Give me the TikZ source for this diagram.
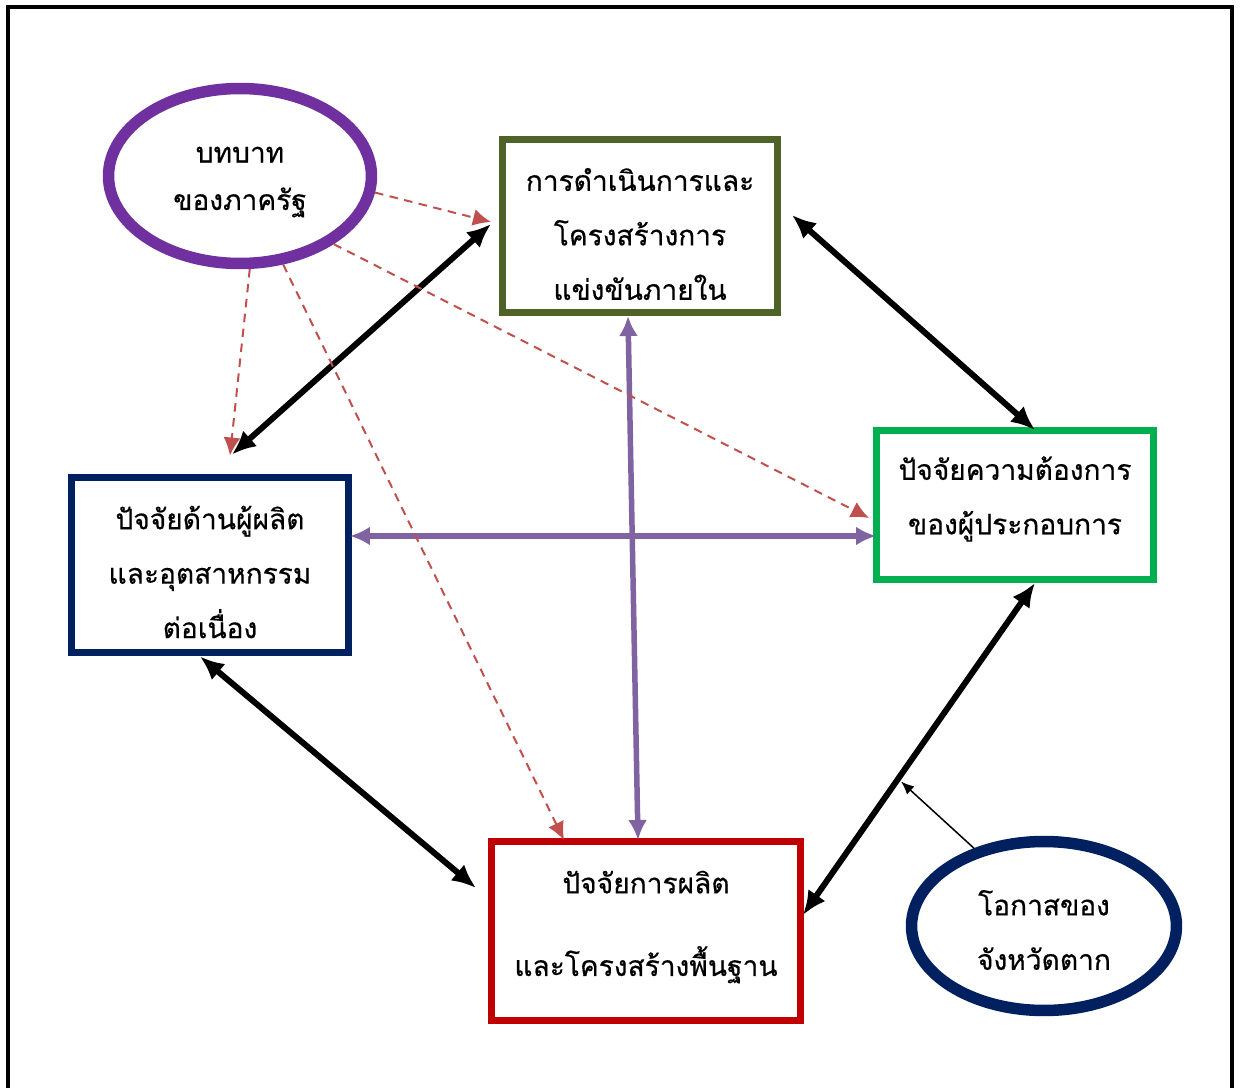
\documentclass[tikz,border=0pt]{standalone}
\usepackage{fontspec}
\setmainfont[Script=Thai,FakeBold=0.5]{Loma}
\usepackage{tikz}
\usetikzlibrary{arrows.meta,shapes.geometric,positioning}
\definecolor{govpurple}{RGB}{112, 48, 160}
\definecolor{darkolive}{RGB}{79, 98, 40}
\definecolor{brightgreen}{RGB}{0, 176, 80}
\definecolor{navyblue}{RGB}{0, 32, 96}
\definecolor{deepred}{RGB}{192, 0, 0}
\definecolor{linkpurple}{RGB}{128, 100, 162}
\definecolor{dashred}{RGB}{192, 80, 77}

\begin{document}
\begin{tikzpicture}
    [x=0.02cm, y=-0.02cm,
    every node/.style={font=\fontsize{16}{31}\selectfont, align=center},
    box/.style={rectangle, draw, line width=0.14cm},
    bubble/.style={ellipse, draw, line width=0.23cm},
    both/.style={line width=0.12cm, {Latex[length=4.8mm,width=4.2mm]}-{Latex[length=4.8mm,width=4.2mm]}},
    cross/.style={draw=linkpurple, line width=0.11cm, {Latex[length=4mm,width=3.8mm]}-{Latex[length=4mm,width=3.8mm]}},
    hint/.style={draw=dashred, line width=0.04cm, dash pattern=on 0.17cm off 0.13cm, -{Latex[length=3.6mm,width=3.4mm]}},
    pointer/.style={line width=0.03cm, -{Latex[length=2.6mm,width=2.2mm]}}]
    \useasboundingbox (0,0) rectangle (1241,1088);
    \draw[line width=0.09cm] (8,1100) -- (8,7) -- (1232,7) -- (1232,1100);

    \node (gov) [bubble, draw=govpurple, minimum width=5.26cm, minimum height=3.5cm] at (240,176) {};
    \node (gov-text) [font=\fontsize{16}{27}\selectfont] at ([shift={(0,6)}]gov) {บทบาท\\ของภาครัฐ};

    \node (olive) [box, draw=darkolive, minimum width=5.5cm, minimum height=3.46cm] at (640,226) {};
    \node (olive-text) at ([shift={(0,8)}]olive) {การดำเนินการและ\\โครงสร้างการ\\แข่งขันภายใน};

    \node (demand) [box, draw=brightgreen, minimum width=5.54cm, minimum height=2.98cm] at (1015,505) {};
    \node (demand-text) at ([shift={(0,-6)}]demand) {ปัจจัยความต้องการ\\ของผู้ประกอบการ};

    \node (producer) [box, draw=navyblue, minimum width=5.54cm, minimum height=3.52cm] at (210,565) {};
    \node (producer-text) at ([shift={(0,7)}]producer) {ปัจจัยด้านผู้ผลิต\\และอุตสาหกรรม\\ต่อเนื่อง};

    \node (infra) [box, draw=deepred, minimum width=6.18cm, minimum height=3.58cm] at (646,931) {};
    \node (infra-text) at ([shift={(0,-4)}]infra) {ปัจจัยการผลิต\\[16pt]และโครงสร้างพื้นฐาน};

    \node (opp) [bubble, draw=navyblue, minimum width=5.3cm, minimum height=3.38cm] at (1044,926) {};
    \node (opp-text) at ([shift={(0,4)}]opp) {โอกาสของ\\จังหวัดตาก};

    % black links round the diamond
    \draw[both] ([shift={(22,-19)}]producer.north) -- ([shift={(-8,-2)}]olive.west);
    \draw[both] ([shift={(11,-11)}]olive.east) -- ([shift={(20,3)}]demand.north);
    \draw[both] ([shift={(20,0)}]demand.south) -- coordinate[pos=0.59] (hit) ([shift={(-1,-16)}]infra.east);
    \draw[both] ([shift={(-10,0)}]producer.south) -- ([shift={(-12,-43)}]infra.west);

    % purple cross
    \draw[cross] ([shift={(-2,-29)}]producer.east) -- ([shift={(3,31)}]demand.west);
    \draw[cross] ([shift={(-12,0)}]olive.south) -- ([shift={(-8,2)}]infra.north);

    % dashed influence of the state
    \draw[hint] (gov.-7) -- ([shift={(-8,-4)}]olive.west);
    \draw[hint] (gov.-36) -- ([shift={(-4,13)}]demand.west);
    \draw[hint] (gov.-84) -- ([shift={(20,-18)}]producer.north);
    \draw[hint] (gov.-64) -- ([shift={(-82,2)}]infra.north);

    \draw[pointer, shorten >=0.08cm] (opp.132) -- (hit);
\end{tikzpicture}
\end{document}
